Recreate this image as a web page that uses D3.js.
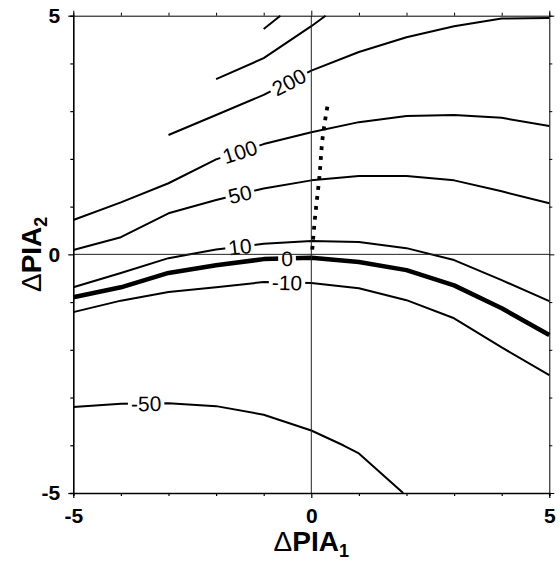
<!DOCTYPE html>
<html>
<head>
<meta charset="utf-8">
<script src="https://cdnjs.cloudflare.com/ajax/libs/d3/7.8.5/d3.min.js"></script>
<style>
  body { margin: 0; background: #fff; }
  svg { display: block; font-family: "Liberation Sans", Arial, sans-serif; }
</style>
</head>
<body>
<svg id="chart" width="560" height="561"></svg>
<script>
// grid columns of delta PIA1
var xGrid = [-5, -4, -3, -2, -1, 0, 1, 2, 3, 4, 5];

// contour levels (y = delta PIA2 at each x)
var c100 = [0.72, 1.09, 1.49, 1.99, 2.31, 2.56, 2.77, 2.90, 2.92, 2.86, 2.69];
var c50 = [0.09, 0.36, 0.86, 1.14, 1.38, 1.55, 1.64, 1.64, 1.55, 1.32, 1.07];
var c10 = [-0.69, -0.39, -0.08, 0.10, 0.22, 0.28, 0.26, 0.13, -0.12, -0.54, -0.98];
var c0 = [-0.90, -0.69, -0.39, -0.23, -0.10, -0.07, -0.16, -0.33, -0.65, -1.13, -1.69];
var cm10 = [-1.21, -0.97, -0.79, -0.69, -0.58, -0.60, -0.71, -0.96, -1.34, -1.95, -2.53];

// partial contours
var c200x = [-3, -2, -1, 0, 1, 2, 3, 4, 5];
var c200y = [2.50, 2.92, 3.34, 3.85, 4.24, 4.55, 4.78, 4.94, 4.95];
var cAx = [-2, -1, 0, 0.3];
var cAy = [3.67, 4.11, 4.78, 5.0];
var cBx = [-1, -0.65];
var cBy = [4.72, 5.0];
var cm50x = [-5, -4, -3, -2, -1, 0, 0.67, 1, 1.93];
var cm50y = [-3.20, -3.13, -3.12, -3.18, -3.36, -3.69, -4.0, -4.17, -5.0];

// dotted path
var dotX = [0.02, 0.08, 0.17, 0.24, 0.34];
var dotY = [0.10, 0.79, 1.62, 2.46, 3.11];

// contour labels: text and x position along the line
var labelText = ["200", "100", "50", "10", "0", "-10", "-50"];
var labelX = [-0.47, -1.5, -1.5, -1.5, -0.51, -0.51, -3.47];

var tickVals = [-5, -4, -3, -2, -1, 0, 1, 2, 3, 4, 5];
var tickLabels = [-5, 0, 5];

var svg = d3.select("#chart");
var pLeft = 73.3, pRight = 549.3, pTop = 15.7, pBottom = 493;

var x = d3.scaleLinear().domain([-5, 5]).range([pLeft, pRight]);
var y = d3.scaleLinear().domain([-5, 5]).range([pBottom, pTop]);

function zip(xs, ys) { return xs.map(function(v, i) { return [v, ys[i]]; }); }

var contours = [
  { pts: zip(xGrid, c100), w: 2 },
  { pts: zip(xGrid, c50), w: 2 },
  { pts: zip(xGrid, c10), w: 2 },
  { pts: zip(xGrid, c0), w: 4.5 },
  { pts: zip(xGrid, cm10), w: 2 },
  { pts: zip(c200x, c200y), w: 2 },
  { pts: zip(cAx, cAy), w: 2 },
  { pts: zip(cBx, cBy), w: 2 },
  { pts: zip(cm50x, cm50y), w: 2 }
];
var labelLine = [5, 0, 1, 2, 3, 4, 8]; // which contour each label sits on

var line = d3.line().x(function(d) { return x(d[0]); }).y(function(d) { return y(d[1]); });

var plot = svg.append("g");

plot.selectAll(".contour")
  .data(contours)
  .enter().append("path")
  .attr("class", "contour")
  .attr("d", function(d) { return line(d.pts); })
  .attr("fill", "none")
  .attr("stroke", "#000")
  .attr("stroke-width", function(d) { return d.w; })
  .attr("stroke-linejoin", "round");

// labels with a white gap in the line
function posOn(pts, lx) {
  for (var i = 0; i < pts.length - 1; i++) {
    if (lx >= pts[i][0] && lx <= pts[i + 1][0]) {
      var t = (lx - pts[i][0]) / (pts[i + 1][0] - pts[i][0]);
      var ly = pts[i][1] + t * (pts[i + 1][1] - pts[i][1]);
      var ang = Math.atan2(y(pts[i + 1][1]) - y(pts[i][1]), x(pts[i + 1][0]) - x(pts[i][0])) * 180 / Math.PI;
      return [x(lx), y(ly), ang];
    }
  }
  return [x(lx), y(pts[0][1]), 0];
}

labelText.forEach(function(txt, i) {
  var p = posOn(contours[labelLine[i]].pts, labelX[i]);
  var g = plot.append("g")
    .attr("transform", "translate(" + p[0] + "," + p[1] + ") rotate(" + p[2] + ")");
  var rect = g.append("rect").attr("fill", "#fff");
  var t = g.append("text")
    .attr("text-anchor", "middle")
    .attr("dy", "0.36em")
    .attr("font-size", 21)
    .text(txt);
  var bb = t.node().getBBox();
  rect.attr("x", bb.x - 3).attr("y", -7).attr("width", bb.width + 6).attr("height", 14);
});

// zero lines
plot.append("line")
  .attr("x1", x(0)).attr("x2", x(0)).attr("y1", y(-5)).attr("y2", y(5))
  .attr("stroke", "#222").attr("stroke-width", 1);
plot.append("line")
  .attr("x1", x(-5)).attr("x2", x(5)).attr("y1", y(0)).attr("y2", y(0))
  .attr("stroke", "#222").attr("stroke-width", 1);

// dotted line
plot.append("path")
  .attr("d", d3.line().x(function(d) { return x(d[0]); }).y(function(d) { return y(d[1]); })
    .curve(d3.curveMonotoneY)(zip(dotX, dotY)))
  .attr("fill", "none")
  .attr("stroke", "#000")
  .attr("stroke-width", 3.8)
  .attr("stroke-dasharray", "3.8,6.2");

// axes
function fmt(d) { return tickLabels.indexOf(d) >= 0 ? String(d) : ""; }
function isMajor(d) { return tickLabels.indexOf(d) >= 0; }

var xb = svg.append("g").attr("transform", "translate(0," + pBottom + ")")
  .call(d3.axisBottom(x).tickValues(tickVals).tickSizeOuter(0).tickSize(3).tickPadding(12).tickFormat(fmt));
var yl = svg.append("g").attr("transform", "translate(" + pLeft + ",0)")
  .call(d3.axisLeft(y).tickValues(tickVals).tickSizeOuter(0).tickSize(3).tickPadding(10).tickFormat(fmt));
var xt = svg.append("g").attr("transform", "translate(0," + pTop + ")")
  .call(d3.axisTop(x).tickValues(tickVals).tickSizeOuter(0).tickSize(3).tickFormat(""));
var yr = svg.append("g").attr("transform", "translate(" + pRight + ",0)")
  .call(d3.axisRight(y).tickValues(tickVals).tickSizeOuter(0).tickSize(3).tickFormat(""));

xb.selectAll(".tick line").attr("y2", function(d) { return isMajor(d) ? 5 : 3; });
yl.selectAll(".tick line").attr("x2", function(d) { return isMajor(d) ? -5 : -3; });
xt.selectAll(".tick line").attr("y2", function(d) { return isMajor(d) ? -5 : -3; });
yr.selectAll(".tick line").attr("x2", function(d) { return isMajor(d) ? 5 : 3; });

[xb, yl].forEach(function(a) {
  a.select(".domain").attr("stroke-width", 1.6);
  a.selectAll(".tick line").attr("stroke-width", 1.2);
  a.selectAll("text")
    .attr("font-family", "'Liberation Sans', Arial, sans-serif")
    .attr("font-size", 21)
    .attr("font-weight", "bold")
    .attr("fill", "#000");
});
[xt, yr].forEach(function(a) {
  a.select(".domain").attr("stroke-width", 1);
  a.selectAll(".tick line").attr("stroke-width", 1);
});

// axis titles
var xTitle = svg.append("text")
  .attr("x", x(0)).attr("y", 551)
  .attr("text-anchor", "middle")
  .attr("font-size", 28).attr("font-weight", "bold");
xTitle.append("tspan").attr("font-weight", "normal").text("Δ");
xTitle.append("tspan").text("PIA");
xTitle.append("tspan").attr("font-size", 18).attr("dy", 6).text("1");

var yTitle = svg.append("text")
  .attr("transform", "translate(41," + y(0) + ") rotate(-90)")
  .attr("text-anchor", "middle")
  .attr("font-size", 28).attr("font-weight", "bold");
yTitle.append("tspan").attr("font-weight", "normal").text("Δ");
yTitle.append("tspan").text("PIA");
yTitle.append("tspan").attr("font-size", 18).attr("dy", 6).text("2");
</script>
</body>
</html>
